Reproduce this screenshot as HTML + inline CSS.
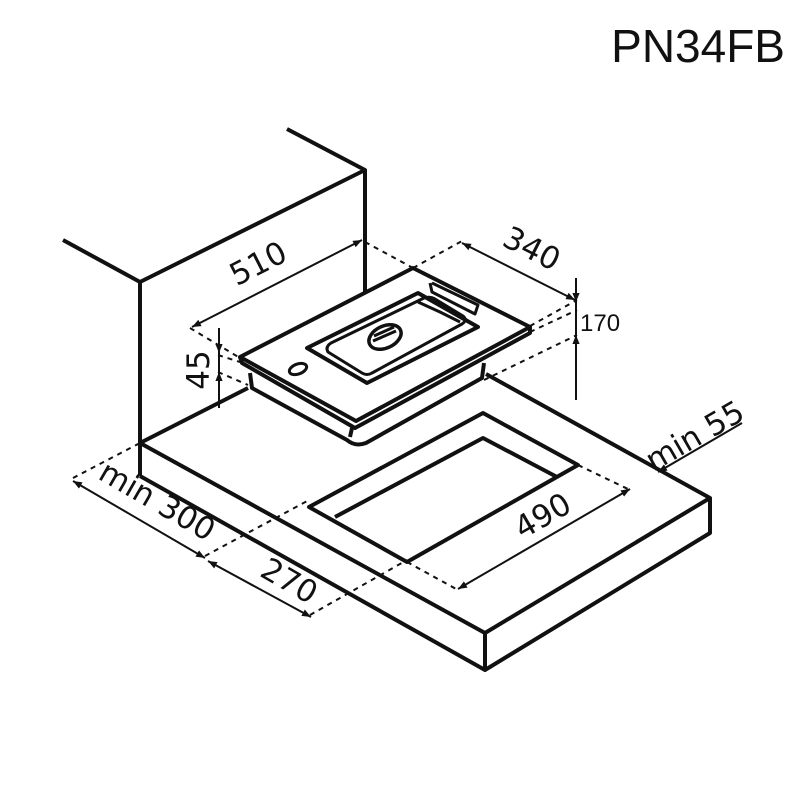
<!DOCTYPE html>
<html><head><style>body{margin:0;background:#fff}svg{display:block}</style></head>
<body>
<svg width="800" height="800" viewBox="0 0 800 800" xmlns="http://www.w3.org/2000/svg">
<defs>
<marker id="a" viewBox="0 0 10 10" refX="10" refY="5" markerWidth="9" markerHeight="9" orient="auto-start-reverse" markerUnits="userSpaceOnUse"><path d="M0,1 L10,5 L0,9 z" fill="#111"/></marker>
</defs>
<text x="785" y="62" font-family="Liberation Sans, sans-serif" font-size="46" text-anchor="end" fill="#111">PN34FB</text>
<g stroke="#111" stroke-width="4" fill="none" stroke-linejoin="round">
<!-- wall -->
<polyline points="63,240 140,282 365,170 287,129"/>
<line x1="140" y1="282" x2="140" y2="476"/>
<line x1="365" y1="170" x2="365" y2="292"/>
<!-- counter -->
<polyline points="140,443 248,388"/>
<polyline points="486,374 710,498 485,633 140,443"/>
<polyline points="140,476 485,670 710,533 710,498"/>
<line x1="485" y1="633" x2="485" y2="670"/>
<!-- cutout -->
<polygon points="309,507 483,413 578,465 407,562"/>
<polyline points="557,477 483,438 335,517"/>
<!-- hob -->
<polygon points="240,357 413,268 530,327 356,421" fill="#fff"/>
<polyline points="240,357 242,363 355,428 530,333 530,327"/>
<path d="M250,373 L252,388 L347,440 Q355,447 366,443 L482,378 L484,363"/>
<path d="M352,428 L350,437"/>
<polygon points="307,348 418,293 478,327 367,383"/>
<path d="M328,352 Q325,347 331,343 L424,298 Q430,296 435,299 L463,316 Q468,320 462,324 L372,373 Q367,376 362,373 z" stroke-width="3"/>
<ellipse cx="385" cy="337" rx="17" ry="11" transform="rotate(-25 385 337)" stroke-width="3.5"/>
<line x1="373" y1="341" x2="396" y2="331" stroke-width="3"/>
<line x1="374" y1="336" x2="394" y2="327" stroke-width="3"/>
<ellipse cx="298" cy="369" rx="9" ry="5" transform="rotate(-20 298 369)" stroke-width="3"/>
<polyline points="430,283 432,292 475,314 478,305 432,283" stroke-width="3"/>
<polyline points="418,302 440,312 460,322" stroke-width="3"/>
</g>
<g stroke="#111" stroke-width="2" fill="none" stroke-dasharray="5,5">
<line x1="190" y1="328" x2="240" y2="358"/>
<line x1="365" y1="242" x2="413" y2="268"/>
<line x1="413" y1="268" x2="462" y2="241"/>
<line x1="530" y1="326" x2="577" y2="300"/>
<line x1="530" y1="332" x2="577" y2="310"/>
<line x1="484" y1="380" x2="577" y2="335"/>
<line x1="218" y1="355" x2="240" y2="362"/>
<line x1="218" y1="372" x2="248" y2="385"/>
<line x1="73" y1="478" x2="140" y2="443"/>
<line x1="205" y1="556" x2="309" y2="500"/>
<line x1="310" y1="615" x2="407" y2="560"/>
<line x1="407" y1="562" x2="458" y2="590"/>
<line x1="578" y1="465" x2="630" y2="490"/>
</g>
<g stroke="#111" stroke-width="2" fill="none">
<line x1="192" y1="327" x2="362" y2="240" marker-start="url(#a)" marker-end="url(#a)"/>
<line x1="462" y1="243" x2="575" y2="300" marker-start="url(#a)" marker-end="url(#a)"/>
<line x1="576" y1="278" x2="576" y2="302" marker-end="url(#a)"/>
<line x1="576" y1="302" x2="576" y2="335"/>
<line x1="576" y1="400" x2="576" y2="335" marker-end="url(#a)"/>
<line x1="219" y1="328" x2="219" y2="353" marker-end="url(#a)"/>
<line x1="219" y1="353" x2="219" y2="372"/>
<line x1="219" y1="408" x2="219" y2="372" marker-end="url(#a)"/>
<line x1="458" y1="589" x2="630" y2="489" marker-start="url(#a)" marker-end="url(#a)"/>
<line x1="742" y1="423" x2="658" y2="472" marker-end="url(#a)"/>
<line x1="73" y1="481" x2="205" y2="558" marker-start="url(#a)" marker-end="url(#a)"/>
<line x1="208" y1="561" x2="311" y2="617" marker-start="url(#a)" marker-end="url(#a)"/>
</g>
<g font-family="DejaVu Sans, sans-serif" font-size="31" fill="#111" text-anchor="middle">
<text transform="translate(263,273) rotate(-27)">510</text>
<text transform="translate(527,258) rotate(27)">340</text>
<text transform="translate(209,370) rotate(-90)">45</text>
<text transform="translate(700,445) rotate(-30)">min 55</text>
<text transform="translate(548,525) rotate(-30)">490</text>
<text transform="translate(152,510) rotate(30)">min 300</text>
<text transform="translate(284,590) rotate(30)">270</text>
</g>
<text x="580" y="331" font-family="Liberation Sans, sans-serif" font-size="24" fill="#111">170</text>
</svg>
</body></html>
